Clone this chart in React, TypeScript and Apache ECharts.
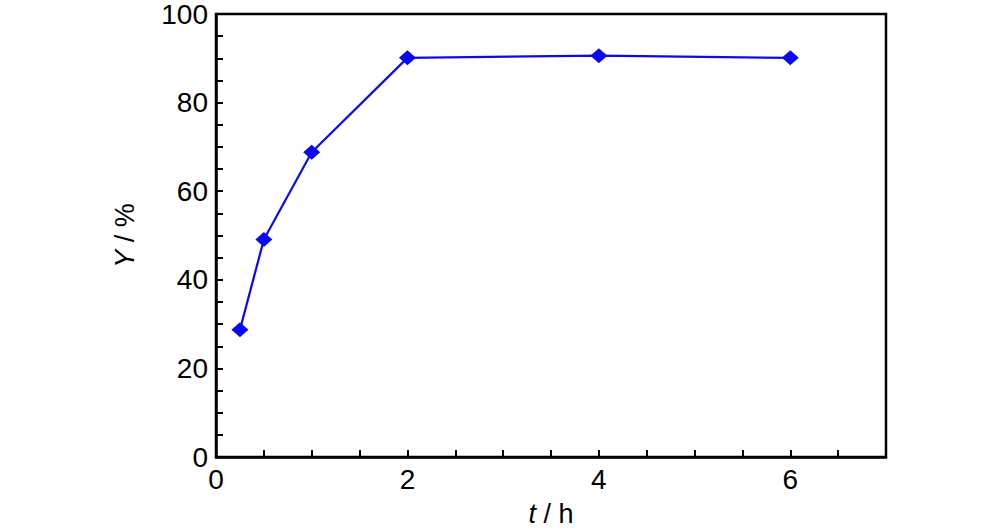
import React, { useEffect, useRef } from "react";
import * as echarts from "echarts";

const times = [0.25, 0.5, 1, 2, 4, 6];
const yields = [28.7, 49.1, 68.8, 90.1, 90.6, 90.1];
const xTickLabels = ["0", "2", "4", "6"];
const yTickLabels = ["0", "20", "40", "60", "80", "100"];

const FONT = "'Liberation Sans Narrow', 'Liberation Sans', Arial, sans-serif";

export default function App() {
  const ref = useRef<HTMLDivElement>(null);
  useEffect(() => {
    if (!ref.current) return;
    const chart = echarts.init(ref.current, undefined, { renderer: "svg" });
    chart.setOption({
      animation: false,
      backgroundColor: "#ffffff",
      grid: {
        left: 216,
        top: 13,
        right: 108,
        bottom: 73,
        show: true,
        borderColor: "#000",
        borderWidth: 2.5,
        backgroundColor: "transparent",
      },
      xAxis: {
        type: "value",
        min: 0,
        max: 7,
        interval: 0.5,
        name: "{i|t} / h",
        nameLocation: "middle",
        nameGap: 43,
        nameTextStyle: {
          color: "#000",
          fontSize: 27,
          fontFamily: FONT,
          rich: { i: { fontStyle: "italic", fontSize: 27, fontFamily: FONT, color: "#000" } },
        },
        axisLine: { show: true, onZero: false, lineStyle: { color: "#000", width: 2.5 } },
        axisTick: { show: true, inside: true, length: 7, lineStyle: { color: "#000", width: 2 } },
        axisLabel: {
          color: "#000",
          fontSize: 28,
          fontFamily: FONT,
          margin: 8,
          formatter: (v: number) => {
            const s = String(v);
            return xTickLabels.includes(s) ? s : "";
          },
        },
        splitLine: { show: false },
      },
      yAxis: {
        type: "value",
        min: 0,
        max: 100,
        interval: 5,
        name: "{i|Y} / %",
        nameLocation: "middle",
        nameGap: 78,
        nameRotate: 90,
        nameTextStyle: {
          color: "#000",
          fontSize: 27,
          fontFamily: FONT,
          rich: { i: { fontStyle: "italic", fontSize: 27, fontFamily: FONT, color: "#000" } },
        },
        axisLine: { show: true, onZero: false, lineStyle: { color: "#000", width: 2.5 } },
        axisTick: { show: true, inside: true, length: 7, lineStyle: { color: "#000", width: 2 } },
        axisLabel: {
          color: "#000",
          fontSize: 28,
          fontFamily: FONT,
          margin: 8,
          padding: [6, 0, 0, 0],
          formatter: (v: number) => {
            const s = String(v);
            return yTickLabels.includes(s) ? s : "";
          },
        },
        splitLine: { show: false },
      },
      series: [
        {
          type: "line",
          data: times.map((t, i) => [t, yields[i]]),
          symbol: "diamond",
          symbolSize: [17, 15],
          lineStyle: { color: "#0a0af0", width: 2.2 },
          itemStyle: { color: "#0a0af0" },
        },
      ],
    });
    return () => chart.dispose();
  }, []);
  return <div ref={ref} style={{ position: "absolute", left: 0, top: 0, width: 994, height: 532 }} />;
}
